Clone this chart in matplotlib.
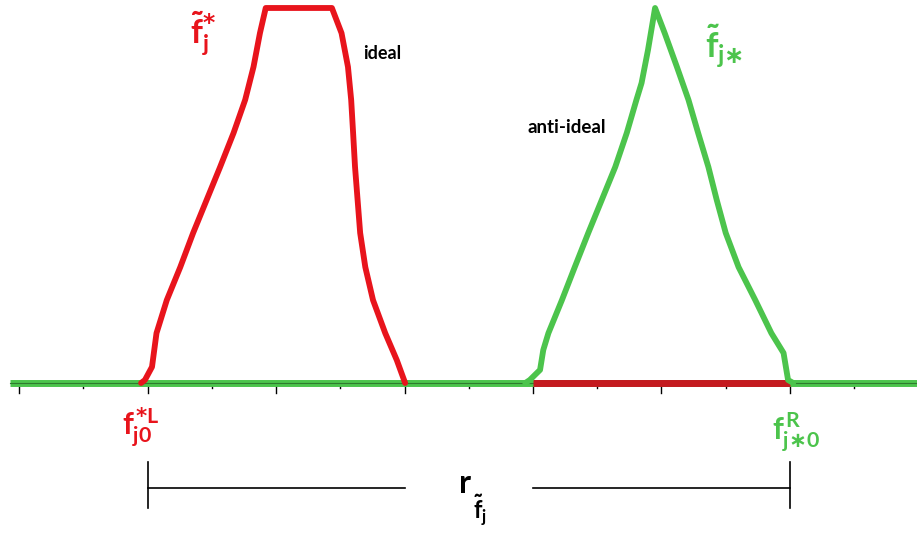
import matplotlib
matplotlib.use('Agg')
import matplotlib.pyplot as plt

plt.rcParams['mathtext.fontset'] = 'custom'
plt.rcParams['mathtext.rm'] = 'Lato:bold'
plt.rcParams['mathtext.it'] = 'Lato:bold'
plt.rcParams['mathtext.bf'] = 'Lato:bold'
plt.rcParams['mathtext.sf'] = 'DejaVu Sans:bold'

RED = '#e8141c'
DARK_RED = '#c41a1f'
GREEN = '#4cc44c'

# ideal fuzzy number (trapezoid-like)
ideal_x = [1.90, 1.96, 2.07, 2.14, 2.30, 2.51, 2.71, 2.92, 3.13, 3.34, 3.52,
           3.65, 3.75, 3.84, 4.87, 5.02, 5.12, 5.17, 5.20, 5.23, 5.27, 5.31,
           5.39, 5.51, 5.70, 5.88, 6.01]
ideal_y = [0.0, 0.008, 0.043, 0.133, 0.221, 0.309, 0.400, 0.488, 0.576, 0.667,
           0.755, 0.843, 0.933, 1.0, 1.0, 0.933, 0.843, 0.755, 0.667, 0.576,
           0.488, 0.400, 0.309, 0.221, 0.133, 0.061, 0.0]

# anti-ideal fuzzy number (triangle-like)
anti_x = [7.88, 7.95, 8.11, 8.16, 8.24, 8.45, 8.65, 8.86, 9.07, 9.28, 9.46,
          9.61, 9.69, 9.79, 9.90, 10.05, 10.24, 10.42, 10.57, 10.73, 10.86,
          11.00, 11.20, 11.46, 11.71, 11.90, 11.97, 12.05]
anti_y = [0.0, 0.008, 0.035, 0.088, 0.133, 0.221, 0.309, 0.400, 0.488, 0.576,
          0.667, 0.755, 0.800, 0.888, 1.0, 0.933, 0.843, 0.755, 0.667, 0.576,
          0.488, 0.400, 0.309, 0.221, 0.133, 0.080, 0.008, 0.0]

# support of the anti-ideal on the axis
support = [8.0, 12.0]
# range bracket endpoints
range_left = 2.0
range_right = 12.0
range_gap = [6.0, 8.0]

ticks = list(range(0, 14))

fig = plt.figure(figsize=(9.17, 5.33), dpi=100)
ax = fig.add_axes([0, 0, 1, 1])
ax.set_xlim(-0.296, 13.977)
ax.set_ylim(-0.4, 1.0213)
ax.axis('off')

# horizontal axis
ax.plot([-0.14, 14.2], [0, 0], color=GREEN, lw=5, solid_capstyle='butt', zorder=2)
ax.plot([-0.14, 14.2], [0, 0], color='#2f7a2f', lw=0.8, zorder=3)
ax.plot(support, [0, 0], color=DARK_RED, lw=5, solid_capstyle='butt', zorder=4)

# ticks below the axis, longer on even positions
for t in ticks:
    ln = 0.027 if t % 2 == 0 else 0.014
    ax.plot([t, t], [0.005, -ln], color='black', lw=1, zorder=1)

ax.plot(ideal_x, ideal_y, color=RED, lw=4.2, solid_joinstyle='round',
        solid_capstyle='round', zorder=5)
ax.plot(anti_x, anti_y, color=GREEN, lw=4.2, solid_joinstyle='round',
        solid_capstyle='round', zorder=5)

# labels
ax.text(2.86, 0.93, r'$\tilde{f}_j^{\mathsf{*}}$', color=RED, fontsize=24,
        ha='center', va='center')
ax.text(5.35, 0.878, 'ideal', color='black', fontsize=13, fontfamily='Lato',
        fontweight='bold', ha='left', va='center')
ax.text(8.53, 0.68, 'anti-ideal', color='black', fontsize=13.5, fontfamily='Lato',
        fontweight='bold', ha='center', va='center')
ax.text(10.68, 0.90, r'$\tilde{f}_{j\mathsf{∗}}$', color=GREEN, fontsize=25,
        ha='left', va='center')
ax.text(1.60, -0.12, r'$f_{j0}^{\mathsf{*}L}$', color=RED, fontsize=22,
        ha='left', va='center')
ax.text(11.72, -0.13, r'$f_{j\mathsf{∗}0}^{R}$', color=GREEN, fontsize=22,
        ha='left', va='center')

# range bracket
yb = -0.28
ax.plot([range_left, range_gap[0]], [yb, yb], color='black', lw=1.2)
ax.plot([range_gap[1], range_right], [yb, yb], color='black', lw=1.2)
ax.plot([range_left, range_left], [-0.211, -0.333], color='black', lw=1.2)
ax.plot([range_right, range_right], [-0.211, -0.333], color='black', lw=1.2)
ax.text(6.83, -0.293, r'$r$', color='black', fontsize=23,
        ha='left', va='baseline')
ax.text(7.06, -0.34, r'$\tilde{f}_j$', color='black', fontsize=17,
        ha='left', va='center')

fig.savefig('out.png', dpi=100)
